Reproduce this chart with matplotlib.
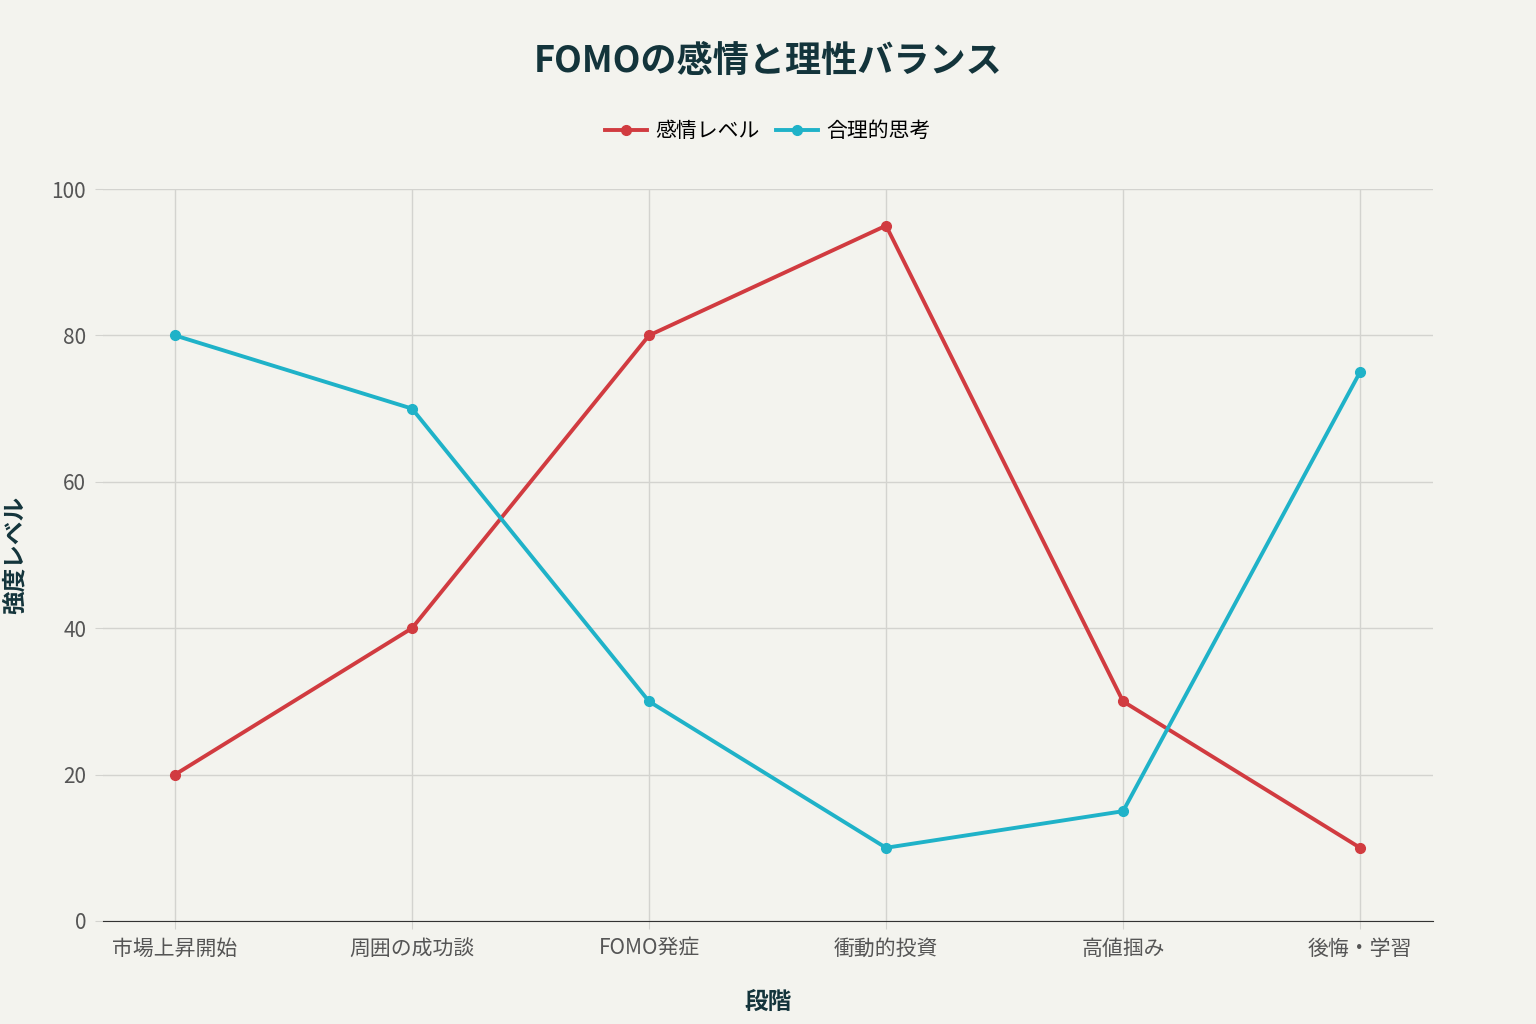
import matplotlib
matplotlib.use("Agg")
import matplotlib.pyplot as plt

plt.rcParams['font.family'] = ['Noto Sans CJK JP', 'DejaVu Sans']

stages = ["市場上昇開始", "周囲の成功談", "FOMO発症", "衝動的投資", "高値掴み", "後悔・学習"]
emotion = [20, 40, 80, 95, 30, 10]
rational = [80, 70, 30, 10, 15, 75]
yticks = [0, 20, 40, 60, 80, 100]

bg = "#F3F3EE"
fig = plt.figure(figsize=(15.36, 10.24), dpi=100, facecolor=bg)
ax = fig.add_axes([0.067, 0.1006, 0.866, 0.7148], facecolor=bg)
x = list(range(len(stages)))
ax.plot(x, emotion, color="#D13B40", lw=2.8, marker="o", ms=7, label="感情レベル", zorder=3)
ax.plot(x, rational, color="#1FB2C8", lw=2.8, marker="o", ms=7, label="合理的思考", zorder=3)
ax.set_xlim(-0.304, 5.308)
ax.set_ylim(0, 100)
ax.set_xticks(x)
ax.set_xticklabels(stages, fontsize=15, color="#555")
ax.set_yticks(yticks)
ax.set_yticklabels([str(v) for v in yticks], fontsize=15, color="#555")
ax.grid(True, color="#D3D3CF", lw=1)
for s in ["top", "right", "left"]:
    ax.spines[s].set_visible(False)
ax.spines["bottom"].set_color("#333")
ax.tick_params(axis="both", length=6, color="#D3D3CF", pad=6)
ax.set_xlabel("段階", fontsize=17, fontweight="bold", color="#13343B", labelpad=22)
ax.set_ylabel("強度レベル", fontsize=17, fontweight="bold", color="#13343B")
ax.yaxis.set_label_coords(-0.0575, 0.5)
fig.text(0.5, 0.94, "FOMOの感情と理性バランス", ha="center", va="center",
         fontsize=26, fontweight="bold", color="#13343B")
fig.legend(loc="center", bbox_to_anchor=(0.5, 0.872), ncol=2, frameon=False,
           fontsize=15, handlelength=2, columnspacing=0.8, handletextpad=0.4)
fig.savefig("out.png", dpi=100, facecolor=bg)
